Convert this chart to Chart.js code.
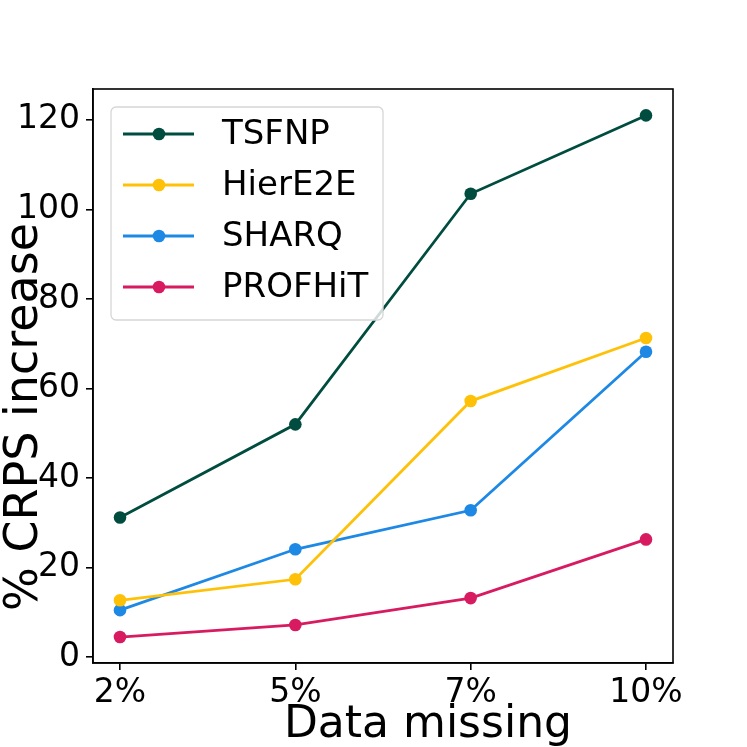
<!DOCTYPE html>
<html lang="en">
<head>
<meta charset="UTF-8" />
<title>CRPS increase vs data missing</title>
<script src="https://cdn.jsdelivr.net/npm/chart.js"></script>
<style>
  html, body { margin: 0; padding: 0; background: #fff; }
  #wrap { width: 747px; height: 747px; }
</style>
</head>
<body>
<div id="wrap"><canvas id="crpsChart" width="747" height="747"></canvas></div>

<script>
  // values
  const categories = ['2%', '5%', '7%', '10%'];
  const tsfnp   = [31.2, 52.0, 103.5, 121.0];
  const hiere2e = [12.7, 17.4, 57.2, 71.3];
  const sharq   = [10.5, 24.1, 32.8, 68.2];
  const profhit = [4.5, 7.2, 13.2, 26.3];
  const yTicks  = [0, 20, 40, 60, 80, 100, 120];

  const FONT = "'DejaVu Sans', sans-serif";

  function series(label, values, color) {
    return {
      label: label,
      data: values.map((v, i) => ({ x: i, y: v })),
      borderColor: color,
      backgroundColor: color,
      borderWidth: 2.8,
      pointRadius: 6.3,
      pointHoverRadius: 6.3,
      pointBorderWidth: 0,
      tension: 0
    };
  }

  // box around the axes + legend + axis titles, matplotlib style
  const decorations = {
    id: 'decorations',
    afterDatasetsDraw(chart) {
      const { ctx, chartArea: a } = chart;
      ctx.save();
      ctx.strokeStyle = '#000';
      ctx.lineWidth = 1.6;
      ctx.strokeRect(a.left, a.top, a.right - a.left, a.bottom - a.top);

      // legend
      const lx = 111, ly = 107, lw = 272, lh = 213;
      ctx.beginPath();
      ctx.roundRect(lx, ly, lw, lh, 5);
      ctx.fillStyle = 'rgba(255,255,255,0.8)';
      ctx.fill();
      ctx.strokeStyle = '#d6d6d6';
      ctx.lineWidth = 1.3;
      ctx.stroke();
      ctx.font = '34px ' + FONT;
      ctx.textBaseline = 'middle';
      ctx.textAlign = 'left';
      chart.data.datasets.forEach((ds, i) => {
        const y = 134 + i * 51;
        ctx.strokeStyle = ds.borderColor;
        ctx.lineWidth = 2.8;
        ctx.beginPath();
        ctx.moveTo(123, y);
        ctx.lineTo(194, y);
        ctx.stroke();
        ctx.fillStyle = ds.borderColor;
        ctx.beginPath();
        ctx.arc(159, y, 6.3, 0, Math.PI * 2);
        ctx.fill();
        ctx.fillStyle = '#000';
        ctx.fillText(ds.label, 222, y + 1);
      });

      // axis titles
      ctx.fillStyle = '#000';
      ctx.textAlign = 'center';
      ctx.textBaseline = 'alphabetic';
      ctx.font = '44px ' + FONT;
      ctx.fillText('Data missing', 428, 737);
      ctx.translate(37, 417);
      ctx.rotate(-Math.PI / 2);
      ctx.font = '46px ' + FONT;
      ctx.fillText('% CRPS increase', 0, 0);
      ctx.restore();
    }
  };

  new Chart(document.getElementById('crpsChart').getContext('2d'), {
    type: 'line',
    data: {
      datasets: [
        series('TSFNP', tsfnp, '#004D40'),
        series('HierE2E', hiere2e, '#FFC107'),
        series('SHARQ', sharq, '#1E88E5'),
        series('PROFHiT', profhit, '#D81B60')
      ]
    },
    options: {
      responsive: false,
      animation: false,
      devicePixelRatio: 1,
      layout: { padding: { top: 89, right: 74, bottom: 0, left: 0 } },
      scales: {
        x: {
          type: 'linear',
          min: -0.154,
          max: 3.154,
          afterFit: s => { s.height = 84; },
          afterBuildTicks: s => { s.ticks = categories.map((c, i) => ({ value: i })); },
          ticks: {
            autoSkip: false,
            maxRotation: 0,
            color: '#000',
            padding: 4,
            font: { family: FONT, size: 33 },
            callback: v => categories[v]
          },
          grid: { drawOnChartArea: false, drawTicks: true, tickLength: 7, color: '#000', lineWidth: 1.6 },
          border: { display: true, color: '#000', width: 1.6 }
        },
        y: {
          min: -1.3,
          max: 126.9,
          afterFit: s => { s.width = 93; },
          afterBuildTicks: s => { s.ticks = yTicks.map(v => ({ value: v })); },
          ticks: {
            color: '#000',
            padding: 6,
            font: { family: FONT, size: 33 }
          },
          grid: { drawOnChartArea: false, drawTicks: true, tickLength: 7, color: '#000', lineWidth: 1.6 },
          border: { display: true, color: '#000', width: 1.6 }
        }
      },
      plugins: {
        legend: { display: false },
        tooltip: { enabled: false }
      }
    },
    plugins: [decorations]
  });
</script>
</body>
</html>
